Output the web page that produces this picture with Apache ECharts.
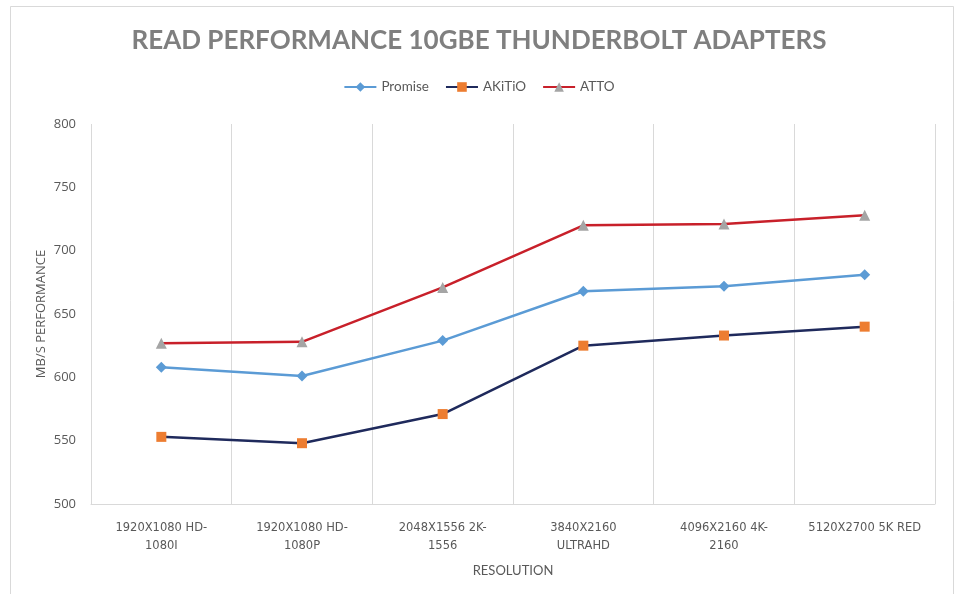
<!DOCTYPE html>
<html>
<head>
<meta charset="utf-8">
<script src="https://cdn.jsdelivr.net/npm/echarts@6/dist/echarts.min.js"></script>
<style>html,body{margin:0;padding:0;background:#fff}#c{width:958px;height:594px}</style>
</head>
<body>
<div id="c"></div>
<script>
var categories = ['1920X1080 HD-\n1080I', '1920X1080 HD-\n1080P', '2048X1556 2K-\n1556', '3840X2160\nULTRAHD', '4096X2160 4K-\n2160', '5120X2700 5K RED'];
var promise = [608, 601, 629, 668, 672, 681];
var akitio = [553, 548, 571, 625, 633, 640];
var atto = [627, 628, 671, 720, 721, 728];
var yTicks = {min: 500, max: 800, interval: 50};

var chart = echarts.init(document.getElementById('c'));
var grey = '#595959';
chart.setOption({
  backgroundColor: '#fff',
  animation: false,
  graphic: [{
    type: 'rect', shape: {x: 10.5, y: 6.5, width: 943, height: 620},
    style: {fill: 'none', stroke: '#d9d9d9', lineWidth: 1}, silent: true
  }],
  title: {
    text: 'READ PERFORMANCE 10GBE THUNDERBOLT ADAPTERS',
    left: 'center', top: 23,
    textStyle: {fontFamily: 'Lato', fontWeight: 'bold', fontSize: 26, color: '#7f7f7f'}
  },
  legend: {
    top: 75, left: 'center',
    itemWidth: 32, itemHeight: 12, itemGap: 16,
    textStyle: {fontFamily: 'Lato', fontSize: 13.5, color: grey},
    data: ['Promise', 'AKiTiO', 'ATTO']
  },
  grid: {left: 91, right: 23, top: 124, bottom: 90, containLabel: false},
  xAxis: {
    type: 'category', data: categories, boundaryGap: true,
    name: 'RESOLUTION', nameLocation: 'middle', nameGap: 60,
    nameTextStyle: {fontFamily: 'Lato', fontSize: 13, color: grey},
    axisLine: {show: true, lineStyle: {color: '#d9d9d9', width: 1}},
    axisTick: {show: false},
    splitLine: {show: true, lineStyle: {color: '#d9d9d9', width: 1}},
    axisLabel: {interval: 0, margin: 15, fontFamily: 'DejaVu Sans', fontSize: 11.5, color: grey, lineHeight: 18}
  },
  yAxis: {
    type: 'value', min: yTicks.min, max: yTicks.max, interval: yTicks.interval,
    name: 'MB/S PERFORMANCE', nameLocation: 'middle', nameGap: 43, nameRotate: 90,
    nameMoveOverlap: false,
    nameTextStyle: {fontFamily: 'Open Sans', fontSize: 13, color: grey},
    axisLine: {show: false}, axisTick: {show: false},
    splitLine: {show: false},
    axisLabel: {margin: 15, fontFamily: 'Open Sans', fontSize: 13, color: grey}
  },
  series: [
    {name: 'Promise', type: 'line', data: promise, symbol: 'diamond', symbolSize: 11,
     itemStyle: {color: '#5b9bd5'}, lineStyle: {color: '#5b9bd5', width: 2.5}},
    {name: 'AKiTiO', type: 'line', data: akitio, symbol: 'rect', symbolSize: 10,
     itemStyle: {color: '#ed7d31'}, lineStyle: {color: '#1f2a5c', width: 2.5}},
    {name: 'ATTO', type: 'line', data: atto, symbol: 'triangle', symbolSize: 11,
     itemStyle: {color: '#a5a5a5'}, lineStyle: {color: '#c8202a', width: 2.5}}
  ]
});
</script>
</body>
</html>
